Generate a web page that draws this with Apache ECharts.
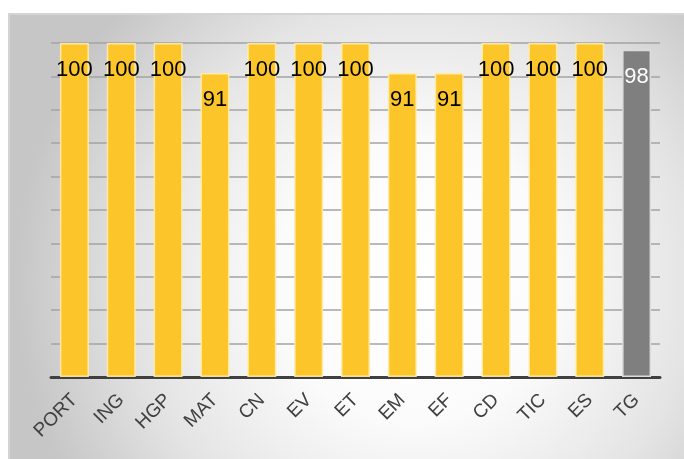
<!DOCTYPE html>
<html><head><meta charset="utf-8">
<script src="https://cdn.jsdelivr.net/npm/echarts@6/dist/echarts.min.js"></script>
<style>
html,body{margin:0;padding:0;background:#fff;}
#c{position:absolute;left:8px;top:13px;width:676px;height:446px;border-top:2px solid #d4d4d4;border-left:2px solid #d4d4d4;box-sizing:border-box;}
</style></head>
<body><div id="c"></div>
<script>
const categories = ['PORT','ING','HGP','MAT','CN','EV','ET','EM','EF','CD','TIC','ES','TG'];
const values = [100,100,100,91,100,100,100,91,91,100,100,100,98];
const highlight = ['TG'];

const chart = echarts.init(document.getElementById('c'));
const data = values.map((v,i)=>{
  const g = highlight.includes(categories[i]);
  return {
    value: v,
    itemStyle: g ? {color:'#7f7f7f', borderColor:'#dcdcdc', borderWidth:1.5} : undefined,
    label: g ? {color:'#ffffff'} : undefined
  };
});
chart.setOption({
  backgroundColor: new echarts.graphic.RadialGradient(0.6,0.6,0.9,[
    {offset:0,color:'#ffffff'},
    {offset:0.35,color:'#fbfbfb'},
    {offset:0.7,color:'#e4e4e4'},
    {offset:1,color:'#c6c6c6'}
  ]),
  animation:false,
  grid:{left:41,right:24,top:28,bottom:82},
  xAxis:{
    type:'category', data:categories,
    axisLine:{lineStyle:{color:'#404040',width:3}},
    axisTick:{show:false},
    axisLabel:{rotate:45,color:'#404040',fontSize:19,fontFamily:'Liberation Sans, Arial, sans-serif',margin:20}
  },
  yAxis:{
    type:'value',min:0,max:100,interval:10,
    axisLabel:{show:false},axisLine:{show:false},axisTick:{show:false},
    splitLine:{lineStyle:{color:'#a3a3a3',width:1.5}}
  },
  series:[{
    type:'bar', data:data, barWidth:29,
    itemStyle:{color:'#FCC62A',borderColor:'rgba(255,236,170,0.9)',borderWidth:1.5},
    label:{show:true,position:'insideTop',distance:16,color:'#000',fontSize:22,fontFamily:'Liberation Sans, Arial, sans-serif'}
  }]
});
</script></body></html>
